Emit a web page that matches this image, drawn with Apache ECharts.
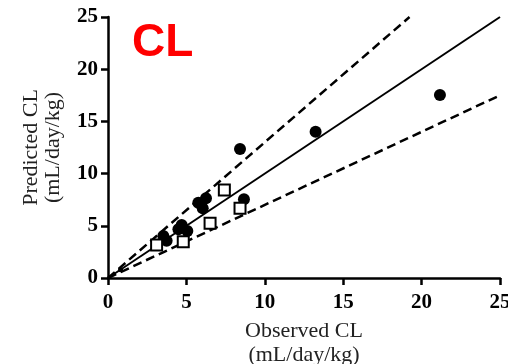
<!DOCTYPE html>
<html>
<head>
<meta charset="utf-8">
<script src="https://cdn.jsdelivr.net/npm/echarts@6/dist/echarts.min.js"></script>
<style>
  html, body { margin: 0; padding: 0; background: #fff; }
  #cl_chart { width: 508px; height: 364px; }
</style>
</head>
<body>
<div id="cl_chart"></div>
<script>
// observed vs predicted CL (mL/day/kg)
var filledPoints = [
    [21.17, 17.53], [13.24, 14.01], [8.42, 12.36], [8.67, 7.54],
    [5.76, 7.21], [6.25, 7.63], [6.04, 6.67],
    [4.70, 5.08], [5.06, 4.50], [4.49, 4.66],
    [3.53, 4.02], [3.74, 3.57]
];
var openPoints = [
    [7.42, 8.43], [8.42, 6.67], [6.51, 5.24], [4.80, 3.48], [3.10, 3.16]
];
var tinyPoints = [[0.8, 0.8]];
var unityLine = [[0, 0], [25, 25]];
var upperLine = [[0, 0], [19.23, 25]];   // +30%
var lowerLine = [[0, 0], [25, 17.5]];    // -30%
var tickValues = [0, 5, 10, 15, 20, 25];

var serif = 'Liberation Serif';
var clChart = echarts.init(document.getElementById('cl_chart'));
clChart.setOption({
    animation: false,
    title: {
        text: 'CL',
        left: 127,
        top: 15,
        textStyle: {
            fontFamily: 'Liberation Sans',
            fontWeight: 'bold',
            fontSize: 46,
            color: '#ff0000'
        }
    },
    grid: {
        left: 108,
        right: 8,
        top: 17,
        bottom: 86,
        outerBoundsMode: 'none',
        containLabel: false
    },
    xAxis: {
        type: 'value',
        min: tickValues[0],
        max: tickValues[tickValues.length - 1],
        interval: 5,
        splitLine: { show: false },
        axisLine: { lineStyle: { color: '#000', width: 2.5 } },
        axisTick: { show: true, length: 7, lineStyle: { color: '#000', width: 2.5 } },
        axisLabel: {
            margin: 14,
            fontFamily: serif,
            fontWeight: 'bold',
            fontSize: 21,
            color: '#000'
        },
        name: 'Observed CL\n(mL/day/kg)',
        nameLocation: 'middle',
        nameGap: 41,
        nameTextStyle: {
            fontFamily: serif,
            fontSize: 22,
            lineHeight: 24,
            color: '#222'
        }
    },
    yAxis: {
        type: 'value',
        min: tickValues[0],
        max: tickValues[tickValues.length - 1],
        interval: 5,
        splitLine: { show: false },
        axisLine: { lineStyle: { color: '#000', width: 2.5 } },
        axisTick: { show: true, length: 7, lineStyle: { color: '#000', width: 2.5 } },
        axisLabel: {
            margin: 10,
            fontFamily: serif,
            fontWeight: 'bold',
            fontSize: 21,
            color: '#000'
        },
        name: 'Predicted CL\n(mL/day/kg)',
        nameLocation: 'middle',
        nameGap: 44,
        nameTextStyle: {
            fontFamily: serif,
            fontSize: 22,
            lineHeight: 22,
            color: '#222'
        }
    },
    series: [{
        type: 'line',
        data: unityLine,
        symbol: 'none',
        lineStyle: { color: '#000', width: 2 },
        z: 2
    }, {
        type: 'line',
        data: upperLine,
        symbol: 'none',
        lineStyle: { color: '#000', width: 2.5, type: [9, 5] },
        z: 2
    }, {
        type: 'line',
        data: lowerLine,
        symbol: 'none',
        lineStyle: { color: '#000', width: 2.5, type: [9, 5] },
        z: 2
    }, {
        type: 'scatter',
        data: filledPoints,
        symbol: 'circle',
        symbolSize: 12,
        itemStyle: { color: '#000', opacity: 1 },
        z: 3
    }, {
        type: 'scatter',
        data: tinyPoints,
        symbol: 'circle',
        symbolSize: 5,
        itemStyle: { color: '#000', opacity: 1 },
        z: 3
    }, {
        type: 'scatter',
        data: openPoints,
        symbol: 'rect',
        symbolSize: 11,
        itemStyle: { color: '#fff', borderColor: '#000', borderWidth: 2, opacity: 1 },
        z: 4
    }]
});
</script>
</body>
</html>
